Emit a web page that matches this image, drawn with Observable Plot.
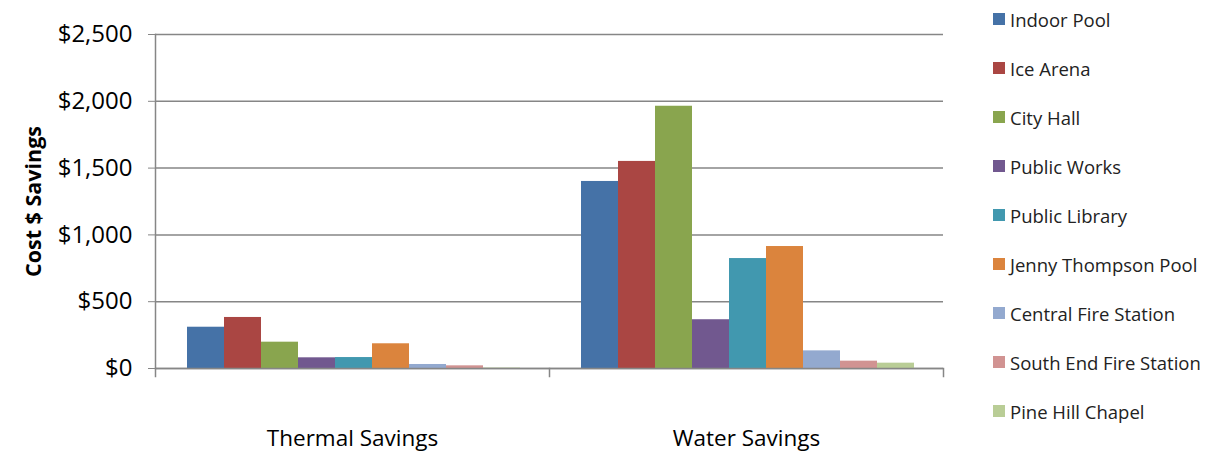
<!DOCTYPE html>
<html>
<head>
<meta charset="utf-8">
<script src="https://cdn.jsdelivr.net/npm/d3@7"></script>
<script src="https://cdn.jsdelivr.net/npm/@observablehq/plot@0.6"></script>
<style>
  body { margin: 0; background: #fff; font-family: "Open Sans", sans-serif; }
  #wrap { position: relative; width: 1206px; height: 455px; overflow: hidden; }
  #legend { position: absolute; left: 993px; top: -5.5px; }
  .row { height: 49px; display: flex; align-items: center; font-size: 18.5px; color: #222; white-space: nowrap; }
  .sw { width: 12px; height: 12px; margin-right: 5px; flex: none; }
  g[aria-label="y-axis label"] text { font-weight: bold; font-size: 21.5px; fill: #000; }
</style>
</head>
<body>
<div id="wrap"><div id="chart"></div><div id="legend"></div></div>
<script>
const groups = ["Thermal Savings", "Water Savings"];
const buildings = ["Indoor Pool", "Ice Arena", "City Hall", "Public Works", "Public Library",
  "Jenny Thompson Pool", "Central Fire Station", "South End Fire Station", "Pine Hill Chapel"];
const colors = ["#4572A7", "#AA4643", "#89A54E", "#71588F", "#4198AF", "#DB843D", "#93A9CF", "#D19392", "#B9CD96"];
const thermal = [309, 382, 197, 80, 82, 185, 30, 20, 3];
const water = [1400, 1550, 1963, 365, 823, 913, 132, 55, 40];
const yTicks = [0, 500, 1000, 1500, 2000, 2500];

const data = [];
buildings.forEach((b, i) => {
  data.push({group: groups[0], building: b, value: thermal[i]});
  data.push({group: groups[1], building: b, value: water[i]});
});

const gray = "#868686";
const plot = Plot.plot({
  width: 1206,
  height: 455,
  marginTop: 34,
  marginBottom: 87,
  marginLeft: 155,
  marginRight: 263,
  style: {fontFamily: "Open Sans, sans-serif", color: "#000", background: "#fff"},
  fx: {domain: groups, padding: 0, label: null},
  x: {domain: buildings, padding: 0, insetLeft: 30, insetRight: 28, axis: null},
  y: {domain: [0, 2500], label: null},
  color: {domain: buildings, range: colors},
  marks: [
    Plot.gridY(yTicks, {stroke: gray, strokeOpacity: 1, strokeWidth: 1.5}),
    Plot.barY(data, {fx: "group", x: "building", y: "value", fill: "building", insetLeft: 0, insetRight: 0}),
    Plot.ruleY([0], {stroke: gray, strokeWidth: 1.5}),
    Plot.frame({anchor: "left", facetAnchor: "left", stroke: gray, strokeWidth: 1.5}),
    Plot.frame({anchor: "left", stroke: gray, strokeWidth: 1.5, insetTop: 334, insetBottom: -8}),
    Plot.frame({anchor: "right", facetAnchor: "right", stroke: gray, strokeWidth: 1.5, insetTop: 334, insetBottom: -8}),
    Plot.axisY(yTicks, {
      tickSize: 7, tickPadding: 16, stroke: gray, fontSize: 24,
      tickFormat: d => "$" + d3.format(",")(d),
      label: "Cost $ Savings", labelAnchor: "center", labelArrow: "none", labelOffset: 130
    }),
    Plot.axisFx({anchor: "bottom", tickSize: 0, tickPadding: 62, fontSize: 22.5, label: null})
  ]
});
document.getElementById("chart").appendChild(plot);

const legend = document.getElementById("legend");
buildings.forEach((b, i) => {
  const row = document.createElement("div");
  row.className = "row";
  const sw = document.createElement("span");
  sw.className = "sw";
  sw.style.background = colors[i];
  row.appendChild(sw);
  row.appendChild(document.createTextNode(b));
  legend.appendChild(row);
});
</script>
</body>
</html>
